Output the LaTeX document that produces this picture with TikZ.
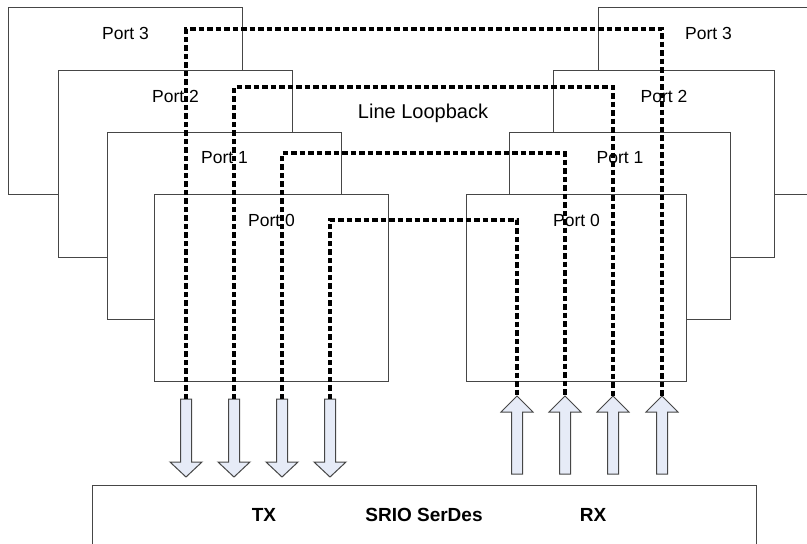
\documentclass[tikz,border=0pt]{standalone}
\usepackage{fontspec}
\setmainfont{Liberation Sans}
\usepackage{xcolor}
\definecolor{arrowfill}{RGB}{230,235,247}
\definecolor{boxline}{RGB}{70,70,70}
\usepackage{tikz}
\usetikzlibrary{positioning}

\begin{document}
\begin{tikzpicture}
[	x=1pt, y=-1pt,
	portbox/.style={draw=boxline, fill=white, line width=1pt, rectangle, inner sep=0pt, anchor=north west, minimum height=187pt},
	portlabel/.style={font=\fontsize{17.5}{20}\selectfont, inner sep=0pt},
	serlabel/.style={font=\bfseries\fontsize{19}{22}\selectfont, inner sep=0pt},
	loopline/.style={draw=black, line width=3.4pt, dash pattern=on 5.5pt off 3pt},
	blockarrow/.style={draw=boxline, fill=arrowfill, line width=1pt, line join=miter}
]
\clip (0,0) rectangle (807,544);

% left stack (TX side)
\node(L3)[portbox, minimum width=234pt] at (8,7) {};
\node(L3t)[portlabel] at ([yshift=-26pt]L3.north) {Port 3};
\node(L2)[portbox, minimum width=234pt] at (58,70) {};
\node(L2t)[portlabel] at ([yshift=-26pt]L2.north) {Port 2};
\node(L1)[portbox, minimum width=234pt] at (107,132) {};
\node(L1t)[portlabel] at ([yshift=-26pt]L1.north) {Port 1};
\node(L0)[portbox, minimum width=234pt] at (154,194) {};
\node(L0t)[portlabel] at ([yshift=-26pt]L0.north) {Port 0};

% right stack (RX side)
\node(R3)[portbox, minimum width=220pt] at (598,7) {};
\node(R3t)[portlabel] at ([yshift=-26pt]R3.north) {Port 3};
\node(R2)[portbox, minimum width=221pt] at (553,70) {};
\node(R2t)[portlabel] at ([yshift=-26pt]R2.north) {Port 2};
\node(R1)[portbox, minimum width=221pt] at (509,132) {};
\node(R1t)[portlabel] at ([yshift=-26pt]R1.north) {Port 1};
\node(R0)[portbox, minimum width=220pt] at (466,194) {};
\node(R0t)[portlabel] at ([yshift=-26pt]R0.north) {Port 0};

\node(loop)[font=\fontsize{20}{24}\selectfont, inner sep=0pt] at (423,113) {Line Loopback};

% serdes block
\node(serdes)[portbox, minimum width=664pt, minimum height=90pt] at (92,485) {};
\node(tx)[serlabel] at (264,515) {TX};
\node(srio)[serlabel] at (424,515) {SRIO SerDes};
\node(rx)[serlabel] at (593,515) {RX};

% TX arrows (down)
\foreach \n/\x in {0/330,1/282,2/234,3/186}{
	\draw[blockarrow] (\x-5.5,399) -- (\x+5.5,399) -- (\x+5.5,462) -- (\x+16,462) -- (\x,477) -- (\x-16,462) -- (\x-5.5,462) -- cycle;
	\coordinate (tx\n) at (\x,399);
}
% RX arrows (up)
\foreach \n/\x in {0/517,1/565,2/613,3/662}{
	\draw[blockarrow] (\x-5.5,474) -- (\x+5.5,474) -- (\x+5.5,412) -- (\x+16,412) -- (\x,396) -- (\x-16,412) -- (\x-5.5,412) -- cycle;
	\coordinate (rx\n) at (\x,396);
}

% loopback levels
\coordinate (lvl0) at (423,220);
\coordinate (lvl1) at (423,153);
\coordinate (lvl2) at (423,87);
\coordinate (lvl3) at (423,29);

\draw[loopline] (tx0) |- (lvl0) -| (rx0);
\draw[loopline] (tx1) |- (lvl1) -| (rx1);
\draw[loopline] (tx2) |- (lvl2) -| (rx2);
\draw[loopline] (tx3) |- (lvl3) -| (rx3);

\end{tikzpicture}
\end{document}
